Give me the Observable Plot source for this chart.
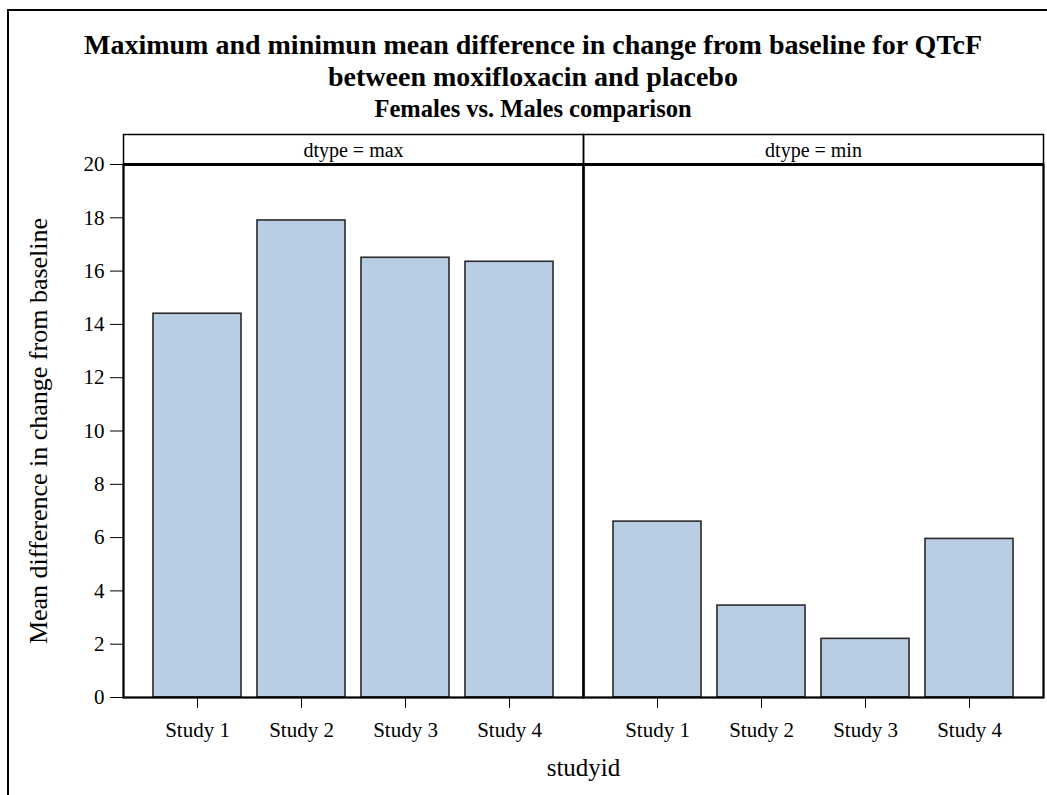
<!DOCTYPE html>
<html>
<head>
<meta charset="utf-8">
<script src="https://cdn.jsdelivr.net/npm/d3@7"></script>
<script src="https://cdn.jsdelivr.net/npm/@observablehq/plot@0.6"></script>
<style>
  html, body { margin: 0; padding: 0; overflow: hidden; background: #fff; width: 1047px; height: 795px; }
  #frame { position: absolute; left: 7px; top: 9px; width: 1100px; height: 900px; border: 2px solid #000; box-sizing: border-box; }
  .ttl { position: absolute; left: 0; width: 1066px; text-align: center; font-family: "Liberation Serif", "Times New Roman", serif; font-weight: bold; color: #000; white-space: nowrap; }
  #t1 { top: 29px; font-size: 28px; line-height: 32px; }
  #t2 { top: 96px; font-size: 24.5px; line-height: 26px; }
  #chart { position: absolute; left: 0; top: 0; }
  #chart svg [aria-label="y-axis label"] text { font-size: 26px; }
  #chart svg [aria-label="x-axis label"] text { font-size: 25px; }
  #chart svg [aria-label="fx-axis tick label"] text { font-size: 20px; }
</style>
</head>
<body>
<div id="frame"></div>
<div class="ttl" id="t1">Maximum and minimun mean difference in change from baseline for QTcF<br>between moxifloxacin and placebo</div>
<div class="ttl" id="t2">Females vs. Males comparison</div>
<div id="chart"></div>
<script>
const studies = ["Study 1", "Study 2", "Study 3", "Study 4"];
const dtypes = ["max", "min"];
const maxValues = [14.4, 17.9, 16.5, 16.35];
const minValues = [6.6, 3.45, 2.2, 5.95];
const yTicks = [0, 2, 4, 6, 8, 10, 12, 14, 16, 18, 20];

const data = [
  ...studies.map((s, i) => ({studyid: s, dtype: "max", value: maxValues[i]})),
  ...studies.map((s, i) => ({studyid: s, dtype: "min", value: minValues[i]}))
];

const chart = Plot.plot({
  width: 1047,
  height: 795,
  marginLeft: 123,
  marginRight: 4,
  marginTop: 164,
  marginBottom: 98,
  style: {fontFamily: '"Liberation Serif", "Times New Roman", serif', fontSize: "21px", color: "#000", background: "transparent", overflow: "visible"},
  fx: {domain: dtypes, padding: 0, label: null, axis: "top", tickFormat: d => `dtype = ${d}`, tickSize: 0, tickPadding: 8},
  x: {domain: studies, paddingInner: 0.15, paddingOuter: 0.275, label: "studyid", labelArrow: "none", labelAnchor: "center", labelOffset: 78, tickSize: 11, tickPadding: 14},
  y: {domain: [0, 20], ticks: yTicks, label: "Mean difference in change from baseline", labelArrow: "none", labelAnchor: "center", labelOffset: 95, tickSize: 13, tickPadding: 6},
  marks: [
    Plot.barY(data, {fx: "dtype", x: "studyid", y: "value", fill: "#b9cde5", stroke: "#2a2a2a", strokeWidth: 1.6}),
    Plot.frame({stroke: "#000", strokeWidth: 2}),
    Plot.frame({stroke: "#000", strokeWidth: 1.5, insetTop: -30}),
    Plot.ruleY([d3.max(yTicks)], {stroke: "#000", strokeWidth: 3})
  ]
});
document.getElementById("chart").appendChild(chart);
chart.querySelectorAll('[aria-label="y-axis label"] text, [aria-label="x-axis label"] text').forEach(t => {
  t.textContent = t.textContent.replace(/[\u2191\u2192\u2193\u2190]/g, "").trim();
});
</script>
</body>
</html>
